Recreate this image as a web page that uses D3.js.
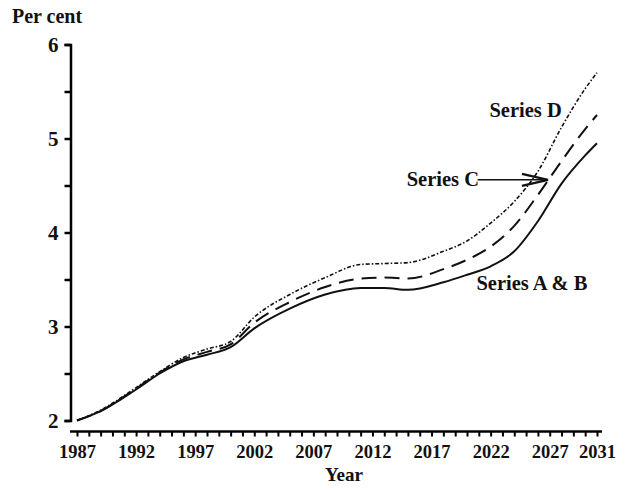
<!DOCTYPE html>
<html>
<head>
<meta charset="utf-8">
<script src="https://cdn.jsdelivr.net/npm/d3@7"></script>
<style>
body { margin: 0; background: #fff; }
text { font-family: "Liberation Serif", "DejaVu Serif", serif; font-weight: bold; fill: #111; }
</style>
</head>
<body>
<div id="chart"></div>
<script>
var years = [1987, 1989, 1992, 1994, 1996, 1998, 2000, 2002, 2005, 2008, 2011, 2013, 2015, 2018, 2020, 2022, 2024, 2026, 2028, 2030, 2031];
var seriesAB = [2.00, 2.10, 2.33, 2.50, 2.63, 2.70, 2.78, 2.98, 3.19, 3.34, 3.41, 3.41, 3.39, 3.47, 3.55, 3.64, 3.80, 4.12, 4.52, 4.82, 4.95];
var seriesC  = [2.00, 2.10, 2.34, 2.51, 2.65, 2.73, 2.81, 3.04, 3.26, 3.42, 3.51, 3.52, 3.51, 3.61, 3.71, 3.85, 4.07, 4.40, 4.76, 5.10, 5.25];
var seriesD  = [2.00, 2.11, 2.35, 2.52, 2.67, 2.76, 2.84, 3.10, 3.34, 3.52, 3.66, 3.67, 3.68, 3.80, 3.91, 4.10, 4.33, 4.65, 5.12, 5.53, 5.70];
var yearLabels = [1987, 1992, 1997, 2002, 2007, 2012, 2017, 2022, 2027, 2031];
var valueLabels = [2, 3, 4, 5, 6];

var svg = d3.select("#chart").append("svg")
    .attr("width", 630)
    .attr("height", 492);

var x = d3.scaleLinear().domain([1987, 2031]).range([77, 597]);
var y = d3.scaleLinear().domain([2, 6]).range([420.5, 44.5]);

// y axis
var yAxis = d3.axisLeft(y)
    .tickValues(d3.range(2, 6.01, 0.5))
    .tickSize(6)
    .tickSizeOuter(6)
    .tickPadding(6)
    .tickFormat(function(d) { return valueLabels.indexOf(d) >= 0 ? d : ""; });
var gy = svg.append("g")
    .attr("transform", "translate(70.5,0)")
    .call(yAxis);
gy.select(".domain").attr("stroke-width", 2.5);
gy.selectAll(".tick line").attr("stroke-width", 2.5);
gy.selectAll(".tick text").style("font-size", "21px").attr("font-family", null);

// x axis
var xAxis = d3.axisBottom(x)
    .tickValues(d3.range(1987, 2032))
    .tickSize(5)
    .tickSizeOuter(0)
    .tickPadding(8)
    .tickFormat(function(d) { return yearLabels.indexOf(d) >= 0 ? d : ""; });
var gx = svg.append("g")
    .attr("transform", "translate(0,431.5)")
    .call(xAxis);
gx.select(".domain").attr("d", "M70,0H602").attr("stroke-width", 2.5);
gx.selectAll(".tick line").attr("stroke-width", 2);
gx.selectAll(".tick text").style("font-size", "18.5px").attr("font-family", null);

svg.append("text")
    .attr("x", 12).attr("y", 23)
    .style("font-size", "20px")
    .text("Per cent");

svg.append("text")
    .attr("x", 344).attr("y", 481)
    .attr("text-anchor", "middle")
    .style("font-size", "19px")
    .text("Year");

var line = d3.line()
    .x(function(d) { return x(d[0]); })
    .y(function(d) { return y(d[1]); })
    .curve(d3.curveMonotoneX);

function pairs(vals) {
    return years.map(function(yr, i) { return [yr, vals[i]]; });
}

svg.append("path")
    .attr("d", line(pairs(seriesD)))
    .attr("fill", "none").attr("stroke", "#111")
    .attr("stroke-width", 1.6)
    .attr("stroke-dasharray", "4,2,1.5,2");

svg.append("path")
    .attr("d", line(pairs(seriesC)))
    .attr("fill", "none").attr("stroke", "#111")
    .attr("stroke-width", 2)
    .attr("stroke-dasharray", "15,8");

svg.append("path")
    .attr("d", line(pairs(seriesAB)))
    .attr("fill", "none").attr("stroke", "#111")
    .attr("stroke-width", 2);

// annotations
svg.append("text")
    .attr("x", x(2021.9)).attr("y", y(5.23))
    .style("font-size", "20.5px")
    .text("Series D");

svg.append("text")
    .attr("x", x(2014.9)).attr("y", y(4.49))
    .style("font-size", "20.5px")
    .text("Series C");

svg.append("text")
    .attr("x", x(2020.8)).attr("y", y(3.39))
    .style("font-size", "20.5px")
    .text("Series A & B");

var ax0 = x(2020.9), ax1 = x(2026.85), ay = y(4.56);
svg.append("line")
    .attr("x1", ax0).attr("x2", ax1)
    .attr("y1", ay).attr("y2", ay)
    .attr("stroke", "#111").attr("stroke-width", 1.5);
svg.append("path")
    .attr("d", "M" + (ax1 - 26) + "," + (ay - 6) + "L" + ax1 + "," + ay + "L" + (ax1 - 26) + "," + (ay + 6))
    .attr("fill", "none").attr("stroke", "#111").attr("stroke-width", 2.5);
</script>
</body>
</html>
